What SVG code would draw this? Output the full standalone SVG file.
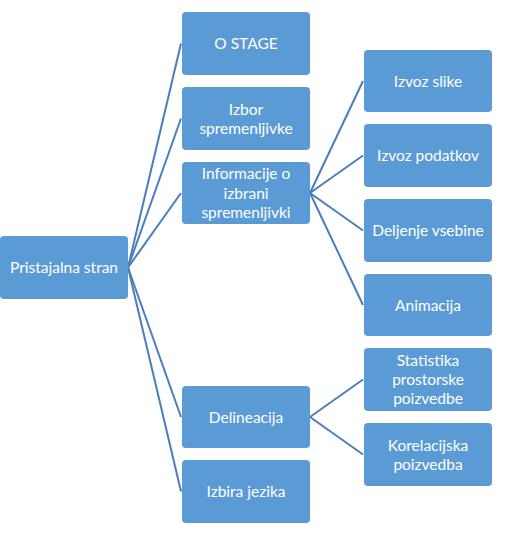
<svg xmlns="http://www.w3.org/2000/svg" width="523" height="547" viewBox="0 0 523 547">
<style>
.box{fill:#5B9BD5;}
.t{font-family:Lato,"Liberation Sans",Arial,sans-serif;font-size:15.5px;fill:#fff;text-anchor:middle;}
.c{stroke:#4A7EBB;stroke-width:2;fill:none;}
</style>
<rect width="523" height="547" fill="#fff"/>
<g id="connectors">
<line class="c" x1="128" y1="267.5" x2="181" y2="43.5"/>
<line class="c" x1="128" y1="267.5" x2="181" y2="118.5"/>
<line class="c" x1="128" y1="267.5" x2="181" y2="193"/>
<line class="c" x1="128" y1="267.5" x2="181" y2="417"/>
<line class="c" x1="128" y1="267.5" x2="181" y2="491.5"/>
<line class="c" x1="310" y1="193" x2="363" y2="81"/>
<line class="c" x1="310" y1="193" x2="363" y2="155.5"/>
<line class="c" x1="310" y1="193" x2="363" y2="230.5"/>
<line class="c" x1="310" y1="193" x2="363" y2="305"/>
<line class="c" x1="310" y1="417" x2="363" y2="379.5"/>
<line class="c" x1="310" y1="417" x2="363" y2="454.5"/>
</g>
<g id="root"><rect class="box" x="0" y="236" width="128" height="63" rx="4"/><text class="t" x="64" y="273">Pristajalna stran</text></g>
<g id="ostage"><rect class="box" x="182" y="12" width="128" height="63" rx="4"/><text class="t" x="246" y="49">O STAGE</text></g>
<g id="izbor"><rect class="box" x="182" y="87" width="128" height="63" rx="4"/><text class="t" x="246" y="114.5">Izbor</text><text class="t" x="246" y="133.5">spremenljivke</text></g>
<g id="informacije"><rect class="box" x="182" y="162" width="128" height="62" rx="4"/><text class="t" x="246" y="178.5">Informacije o</text><text class="t" x="246" y="198.5">izbrani</text><text class="t" x="246" y="217.5">spremenljivki</text></g>
<g id="delineacija"><rect class="box" x="182" y="386" width="128" height="62" rx="4"/><text class="t" x="246" y="422.5">Delineacija</text></g>
<g id="izbira"><rect class="box" x="182" y="460" width="128" height="63" rx="4"/><text class="t" x="246" y="497">Izbira jezika</text></g>
<g id="izvozslike"><rect class="box" x="364" y="50" width="128" height="62" rx="4"/><text class="t" x="428" y="86.5">Izvoz slike</text></g>
<g id="izvozpodatkov"><rect class="box" x="364" y="124" width="128" height="63" rx="4"/><text class="t" x="428" y="161">Izvoz podatkov</text></g>
<g id="deljenje"><rect class="box" x="364" y="199" width="128" height="63" rx="4"/><text class="t" x="428" y="236">Deljenje vsebine</text></g>
<g id="animacija"><rect class="box" x="364" y="274" width="128" height="62" rx="4"/><text class="t" x="428" y="310.5">Animacija</text></g>
<g id="statistika"><rect class="box" x="364" y="348" width="128" height="63" rx="4"/><text class="t" x="428" y="365.5">Statistika</text><text class="t" x="428" y="384.5">prostorske</text><text class="t" x="428" y="403.5">poizvedbe</text></g>
<g id="korelacijska"><rect class="box" x="364" y="423" width="128" height="63" rx="4"/><text class="t" x="428" y="450.5">Korelacijska</text><text class="t" x="428" y="469.5">poizvedba</text></g>
</svg>
